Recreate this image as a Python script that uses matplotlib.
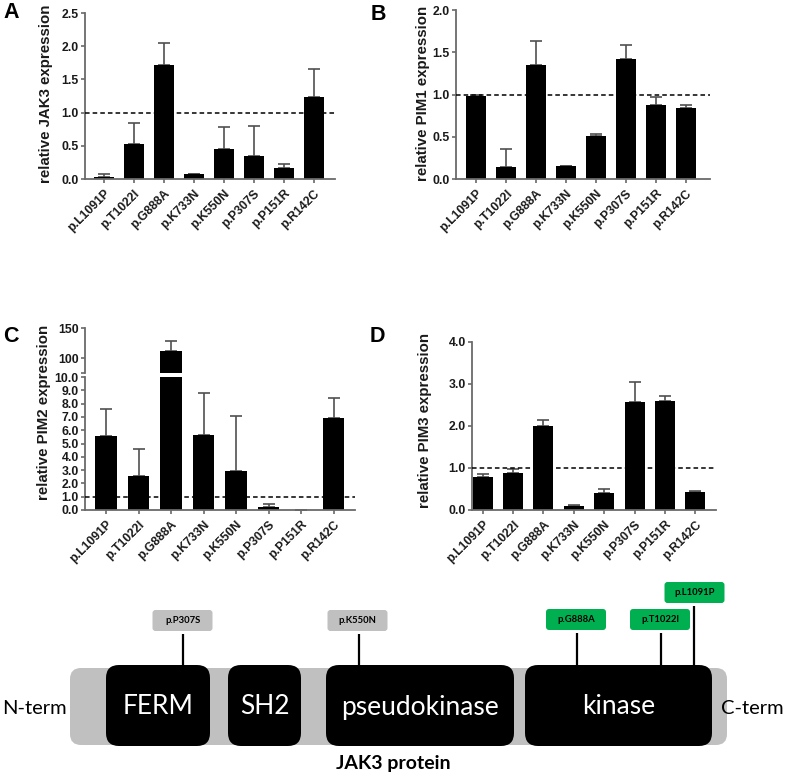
import numpy as np
import matplotlib
matplotlib.use("Agg")
import matplotlib.pyplot as plt
from matplotlib.patches import FancyBboxPatch

plt.rcParams['font.family'] = ['Liberation Sans', 'DejaVu Sans']
plt.rcParams['font.weight'] = 'bold'

# mutations tested (same order in every panel)
mutations = ["p.L1091P", "p.T1022I", "p.G888A", "p.K733N",
             "p.K550N", "p.P307S", "p.P151R", "p.R142C"]

# relative expression (mean) and upper error (SEM)
jak3_mean = [0.03, 0.53, 1.71, 0.08, 0.45, 0.34, 0.17, 1.23]
jak3_sem = [0.04, 0.31, 0.34, 0.0, 0.34, 0.46, 0.06, 0.43]

pim1_mean = [0.98, 0.145, 1.35, 0.15, 0.51, 1.42, 0.875, 0.84]
pim1_sem = [0.01, 0.21, 0.28, 0.005, 0.02, 0.17, 0.10, 0.04]

pim2_mean = [5.53, 2.59, 111.0, 5.65, 2.94, 0.23, 0.0, 6.91]
pim2_sem = [2.06, 1.96, 17.0, 3.17, 4.15, 0.20, 0.0, 1.51]

pim3_mean = [0.79, 0.87, 2.01, 0.10, 0.41, 2.57, 2.60, 0.44]
pim3_sem = [0.06, 0.11, 0.14, 0.02, 0.10, 0.48, 0.12, 0.02]

# JAK3 protein scheme
domains = ["FERM", "SH2", "pseudokinase", "kinase"]
benign_muts = ["p.P307S", "p.K550N"]
active_muts = ["p.G888A", "p.T1022I", "p.L1091P"]

W, H = 785, 777
fig = plt.figure(figsize=(W / 100, H / 100), dpi=100)

SPINE = '#6a6a6a'
ERR = '#505050'
TICK_FS = 8.8
LABEL_FS = 10.8


def px_axes(left, top, right, bottom):
    return fig.add_axes([left / W, 1 - bottom / H, (right - left) / W, (bottom - top) / H])


def style_axes(ax):
    for s in ['top', 'right']:
        ax.spines[s].set_visible(False)
    for s in ['left', 'bottom']:
        ax.spines[s].set_color(SPINE)
        ax.spines[s].set_linewidth(1.3)
    ax.tick_params(axis='both', colors=SPINE, width=1.2, length=3, pad=1.5,
                   labelsize=TICK_FS, labelcolor='#1a1a1a')


def draw_bars(ax, mean, sem, xlim, dashed=True):
    x = np.arange(len(mutations))
    ax.bar(x, mean, width=0.66, color='black', zorder=2)
    ax.errorbar(x, mean, yerr=[np.zeros(len(sem)), sem], fmt='none', ecolor=ERR,
                elinewidth=1.2, capsize=4, capthick=1.2, zorder=1)
    if dashed:
        ax.axhline(1.0, color='black', linestyle=(0, (3, 2)), linewidth=1.1, zorder=3)
    ax.set_xlim(*xlim)
    ax.set_xticks(x)
    ax.set_xticklabels(mutations, rotation=45, ha='right', rotation_mode='anchor')
    style_axes(ax)
    ax.tick_params(axis='x', pad=3)


def ylabel(text, x, y):
    fig.text(x / W, 1 - y / H, text, rotation=90, ha='center', va='center',
             fontsize=LABEL_FS, fontweight='bold', color='#1a1a1a')


def panel_letter(letter, x, y):
    fig.text(x / W, 1 - y / H, letter, ha='center', va='center',
             fontsize=15.5, fontweight='bold')


# ---- A: JAK3
axA = px_axes(85, 13, 335, 179)
draw_bars(axA, jak3_mean, jak3_sem, (-0.63, 7.7))
axA.set_ylim(0, 2.5)
axA.set_yticks(np.arange(0, 2.51, 0.5))
axA.set_yticklabels(["%.1f" % v for v in np.arange(0, 2.51, 0.5)])
ylabel("relative JAK3 expression", 46, 94)
panel_letter("A", 11, 13)

# ---- B: PIM1
axB = px_axes(456, 10, 710, 179)
draw_bars(axB, pim1_mean, pim1_sem, (-0.67, 7.8))
axB.set_ylim(0, 2.0)
axB.set_yticks(np.arange(0, 2.01, 0.5))
axB.set_yticklabels(["%.1f" % v for v in np.arange(0, 2.01, 0.5)])
ylabel("relative PIM1 expression", 423, 93)
panel_letter("B", 378, 14)

# ---- C: PIM2 (broken axis)
axC = px_axes(85, 377, 355, 510)
draw_bars(axC, pim2_mean, pim2_sem, (-0.65, 7.66))
axC.set_ylim(0, 10)
axC.set_yticks(np.arange(0, 10.1, 1.0))
axC.set_yticklabels(["%.1f" % v for v in np.arange(0, 10.1, 1.0)])

axC2 = px_axes(85, 328, 355, 373)
x = np.arange(len(mutations))
big = np.array(pim2_mean) > 10
axC2.bar(x[big], np.array(pim2_mean)[big], width=0.66, color='black', zorder=2)
axC2.errorbar(x[big], np.array(pim2_mean)[big],
              yerr=[np.zeros(big.sum()), np.array(pim2_sem)[big]], fmt='none',
              ecolor=ERR, elinewidth=1.2, capsize=4, capthick=1.2, zorder=1)
axC2.set_xlim(-0.65, 7.66)
axC2.set_ylim(75, 150)
axC2.set_yticks([75, 100, 150])
axC2.set_yticklabels(["", "100", "150"])
style_axes(axC2)
axC2.spines['bottom'].set_visible(False)
axC2.tick_params(axis='x', bottom=False, labelbottom=False)
ylabel("relative PIM2 expression", 44, 412)
panel_letter("C", 11, 337)

# ---- D: PIM3
axD = px_axes(472, 342, 716, 510)
draw_bars(axD, pim3_mean, pim3_sem, (-0.35, 7.68))
axD.set_ylim(0, 4.0)
axD.set_yticks(np.arange(0, 4.01, 1.0))
axD.set_yticklabels(["%.1f" % v for v in np.arange(0, 4.01, 1.0)])
ylabel("relative PIM3 expression", 425, 420)
panel_letter("D", 377, 337)

# ---- E: JAK3 protein scheme (pixel coordinates)
axE = fig.add_axes([0, 0, 1, 1 - 560 / H])
axE.set_xlim(0, W)
axE.set_ylim(H, 560)
axE.axis('off')

calibri = ['Lato', 'DejaVu Sans']
axE.add_patch(FancyBboxPatch((70, 668), 657, 77, boxstyle="round,pad=0,rounding_size=11",
                             facecolor='#c0c0c0', edgecolor='none'))
dom_x = [(106, 210), (228, 301), (326, 514), (525, 712)]
for name, (x0, x1) in zip(domains, dom_x):
    axE.add_patch(FancyBboxPatch((x0, 665), x1 - x0, 81,
                                 boxstyle="round,pad=0,rounding_size=13",
                                 facecolor='black', edgecolor='none'))
    axE.text((x0 + x1) / 2, 707, name, color='white', ha='center', va='center',
             fontsize=19, family=calibri, fontweight='normal')

axE.text(2, 708, "N-term", ha='left', va='center', fontsize=14.5, family=calibri,
         fontweight='normal')
axE.text(784, 708, "C-term", ha='right', va='center', fontsize=14.5, family=calibri,
         fontweight='normal')
axE.text(393, 764, "JAK3 protein", ha='center', va='center', fontsize=14,
         family=calibri, fontweight='bold')

# mutation tags: (label box centre x, box top, line x)
tag_pos = {"p.P307S": (182.5, 610, 183), "p.K550N": (357.5, 610, 358.5),
           "p.G888A": (576, 609, 577), "p.T1022I": (660, 609, 661),
           "p.L1091P": (694.5, 582, 694)}
for m in benign_muts + active_muts:
    cx, top, lx = tag_pos[m]
    color = '#c0c0c0' if m in benign_muts else '#00b050'
    axE.add_patch(FancyBboxPatch((cx - 30, top), 60, 21,
                                 boxstyle="round,pad=0,rounding_size=3",
                                 facecolor=color, edgecolor='none'))
    axE.text(cx, top + 10.5, m, ha='center', va='center', fontsize=6.8,
             family=calibri, fontweight='bold')
    axE.plot([lx, lx], [top + 24, 666], color='black', linewidth=1.6,
             solid_capstyle='butt')

fig.savefig("out.png", dpi=100)
